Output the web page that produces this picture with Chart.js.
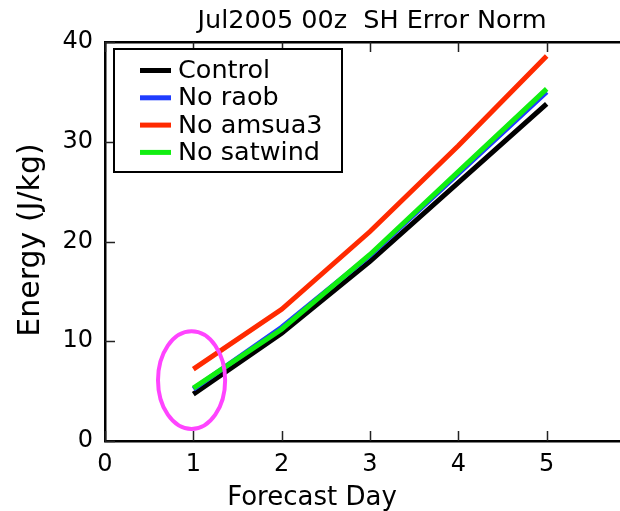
<!DOCTYPE html>
<html>
<head>
<meta charset="utf-8">
<script src="https://cdn.jsdelivr.net/npm/chart.js@4"></script>
<style>
  html, body { margin: 0; padding: 0; background: #fff; overflow: hidden; width: 620px; height: 511px; }
  #c { display: block; }
</style>
</head>
<body>
<canvas id="c" width="640" height="511"></canvas>
<script>
// Forecast energy error norm, SH, July 2005 00z cycle
const forecastDays = [1, 2, 3, 4, 5];
const controlErr   = [4.7, 10.8, 18.0, 25.9, 33.8];
const noRaobErr    = [5.2, 11.4, 18.6, 26.8, 35.0];
const noAmsua3Err  = [7.2, 13.2, 21.0, 29.6, 38.6];
const noSatwindErr = [5.3, 11.2, 18.7, 27.0, 35.3];
const seriesNames  = ['Control', 'No raob', 'No amsua3', 'No satwind'];
const xTicks = [0, 1, 2, 3, 4, 5];
const yTicks = [0, 10, 20, 30, 40];

// highlighted region around day 1 (data units)
const mark = { x: 0.98, y: 6.1, rx: 0.38, ry: 4.9 };

const FONT = "'DejaVu Sans', sans-serif";
const pts = vals => forecastDays.map((d, i) => ({ x: d, y: vals[i] }));

const colors = ['#000000', '#1f3cff', '#ff2a00', '#11ee11'];
const series = [controlErr, noRaobErr, noAmsua3Err, noSatwindErr];

const datasets = series.map((vals, i) => ({
  label: seriesNames[i],
  data: pts(vals),
  borderColor: colors[i],
  backgroundColor: colors[i],
  borderWidth: 5,
  pointRadius: 0,
  tension: 0,
  order: series.length - i   // later series drawn on top
}));

const frame = {
  id: 'frame',
  afterDatasetsDraw(chart) {
    const { ctx, chartArea: a, scales: { x, y } } = chart;
    ctx.save();
    // inward tick marks
    ctx.strokeStyle = '#222';
    ctx.lineWidth = 1.5;
    ctx.beginPath();
    xTicks.forEach(v => {
      const px = Math.round(x.getPixelForValue(v)) + 0.5;
      ctx.moveTo(px, a.bottom); ctx.lineTo(px, a.bottom - 10);
      ctx.moveTo(px, a.top); ctx.lineTo(px, a.top + 10);
    });
    yTicks.forEach(v => {
      const py = Math.round(y.getPixelForValue(v)) + 0.5;
      ctx.moveTo(a.left, py); ctx.lineTo(a.left + 10, py);
      ctx.moveTo(a.right, py); ctx.lineTo(a.right - 10, py);
    });
    ctx.stroke();

    // ellipse marker
    const cx = x.getPixelForValue(mark.x), cy = y.getPixelForValue(mark.y);
    const rx = Math.abs(x.getPixelForValue(mark.x + mark.rx) - cx);
    const ry = Math.abs(y.getPixelForValue(mark.y + mark.ry) - cy);
    ctx.strokeStyle = '#ff44ff';
    ctx.lineWidth = 4;
    ctx.beginPath();
    ctx.ellipse(cx, cy, rx, ry, 0, 0, Math.PI * 2);
    ctx.stroke();

    // legend
    const lx = 114, ly = 49, lw = 228, lh = 123;
    ctx.fillStyle = '#fff';
    ctx.fillRect(lx, ly, lw, lh);
    ctx.strokeStyle = '#000';
    ctx.lineWidth = 2;
    ctx.strokeRect(lx, ly, lw, lh);
    ctx.font = `25.5px ${FONT}`;
    ctx.textBaseline = 'middle';
    ctx.textAlign = 'left';
    chart.data.datasets.forEach((ds, i) => {
      const ry0 = 70.5 + i * 27.3;
      ctx.strokeStyle = ds.borderColor;
      ctx.lineWidth = 5;
      ctx.beginPath();
      ctx.moveTo(140, ry0); ctx.lineTo(171, ry0);
      ctx.stroke();
      ctx.fillStyle = '#000';
      ctx.fillText(ds.label, 178, ry0 + 1);
    });

    // titles
    ctx.fillStyle = '#000';
    ctx.textAlign = 'center';
    ctx.textBaseline = 'alphabetic';
    ctx.font = `25.5px ${FONT}`;
    ctx.fillText('Jul2005 00z  SH Error Norm', (a.left + a.right) / 2 + 2, 28);
    ctx.font = `26px ${FONT}`;
    ctx.fillText('Forecast Day', 312, 505);
    ctx.save();
    ctx.translate(39, 240);
    ctx.rotate(-Math.PI / 2);
    ctx.font = `30px ${FONT}`;
    ctx.fillText('Energy (J/kg)', 0, 0);
    ctx.restore();
    ctx.restore();
  }
};

new Chart(document.getElementById('c'), {
  type: 'line',
  data: { datasets },
  options: {
    responsive: false,
    animation: false,
    devicePixelRatio: 1,
    layout: { padding: { left: 0, right: 5, top: 42, bottom: 0 } },
    plugins: { legend: { display: false }, tooltip: { enabled: false }, title: { display: false } },
    scales: {
      x: {
        type: 'linear', min: 0, max: 6,
        afterFit: s => { s.height = 70; },
        afterBuildTicks: s => { s.ticks = xTicks.map(v => ({ value: v })); },
        grid: { display: true, drawOnChartArea: false, drawTicks: false },
        border: { display: true, color: '#000', width: 2.5 },
        ticks: { color: '#000', font: { family: FONT, size: 24 }, padding: 9, maxRotation: 0 }
      },
      xTop: {
        type: 'linear', position: 'top', min: 0, max: 6,
        afterFit: s => { s.height = 0; },
        grid: { display: true, drawOnChartArea: false, drawTicks: false },
        border: { display: true, color: '#000', width: 2.5 },
        ticks: { display: false }
      },
      y: {
        type: 'linear', min: 0, max: 40,
        afterFit: s => { s.width = 105; },
        afterBuildTicks: s => { s.ticks = yTicks.map(v => ({ value: v })); },
        grid: { display: true, drawOnChartArea: false, drawTicks: false },
        border: { display: true, color: '#000', width: 2.5 },
        ticks: { color: '#000', font: { family: FONT, size: 24 }, padding: 12 }
      }
    }
  },
  plugins: [frame]
});
</script>
</body>
</html>
